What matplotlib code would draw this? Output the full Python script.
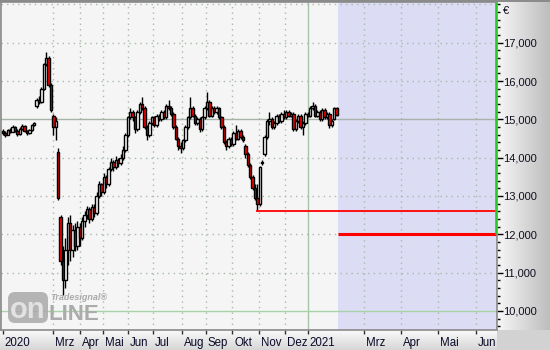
import numpy as np
import matplotlib
matplotlib.use('Agg')
import matplotlib.pyplot as plt
import matplotlib.transforms as mtransforms
from matplotlib.patches import FancyBboxPatch
from matplotlib.lines import Line2D

# ---------------- data (one candle per two sessions, Jan 2020 - Feb 2021) ----------------
opens = [14700, 14650, 14600, 14720, 14680, 14800, 14700, 14620, 14750, 14820,
         14700, 14640, 14720, 14850, 15350, 15500, 15450, 15800, 16450, 16600,
         15900, 15100, 14800, 14150, 12450, 11300, 10800, 11600, 12300, 11600,
         12100, 11700, 12200, 11900, 12350, 12500, 12650, 12400, 12700, 12550,
         13000, 13300, 13100, 13500, 13300, 13700, 13900, 13750, 13950, 13850,
         14000, 14200, 14600, 15050, 15200, 15050, 14750, 15200, 15400, 15300,
         14800, 14600, 14900, 15050, 14850, 15100, 15000, 15200, 15050, 15350,
         15300, 15150, 14800, 14500, 14300, 14250, 14450, 14800, 15050, 15300,
         15100, 14900, 15000, 14750, 15050, 15300, 15450, 15100, 15300, 15200,
         15300, 15050, 14800, 14400, 14300, 14500, 14350, 14650, 14500, 14700,
         14550, 14300, 14100, 13800, 13500, 13200, 12950, 12800, 13870, 14100,
         14550, 14950, 15000, 14800, 14900, 15100, 14950, 15150, 15050, 15200,
         15100, 15150, 14750, 14950, 15100, 14800, 14900, 15150, 15100, 15300,
         15350, 15100, 15200, 15000, 15250, 15050, 15150, 14850, 15000, 15300]
highs = [14760, 14700, 14760, 14780, 14850, 14830, 14740, 14790, 14880, 14850,
         14720, 14760, 14880, 14940, 15560, 15600, 15850, 16480, 16760, 16650,
         15950, 15150, 15050, 14250, 12500, 11700, 11900, 12450, 12500, 12250,
         12300, 12350, 12300, 12450, 12600, 12750, 12700, 12800, 12800, 13100,
         13400, 13350, 13600, 13550, 13750, 14000, 13950, 14050, 14000, 14100,
         14300, 14650, 15100, 15300, 15250, 15100, 15250, 15450, 15580, 15350,
         14850, 14950, 15100, 15100, 15150, 15150, 15250, 15250, 15400, 15500,
         15350, 15200, 14850, 14550, 14400, 14500, 14850, 15100, 15580, 15350,
         15150, 15050, 15050, 15100, 15350, 15710, 15500, 15350, 15350, 15350,
         15330, 15100, 14850, 14450, 14550, 14550, 14700, 14850, 14750, 14750,
         14600, 14350, 14150, 13850, 13550, 13300, 13300, 13780, 13950, 14600,
         15000, 15200, 15050, 14950, 15150, 15150, 15200, 15250, 15250, 15250,
         15200, 15200, 15000, 15150, 15150, 14950, 15200, 15200, 15350, 15450,
         15400, 15250, 15250, 15300, 15300, 15200, 15200, 15000, 15320, 15330]
lows = [14580, 14540, 14580, 14640, 14660, 14660, 14560, 14600, 14720, 14660,
        14590, 14620, 14700, 14820, 15300, 15400, 15420, 15780, 16400, 15850,
        15200, 14600, 14450, 12900, 11200, 10410, 10600, 11200, 11300, 11400,
        11550, 11600, 11700, 11850, 12200, 12400, 12300, 12350, 12450, 12500,
        12950, 13000, 13050, 13200, 13250, 13650, 13650, 13700, 13750, 13800,
        13950, 14150, 14550, 15000, 14950, 14650, 14700, 15150, 15250, 14750,
        14460, 14550, 14850, 14800, 14800, 14950, 14950, 15000, 15000, 15250,
        15100, 14750, 14450, 14200, 14120, 14200, 14400, 14750, 15000, 15050,
        14850, 14850, 14680, 14700, 15000, 15250, 15050, 15050, 15150, 15150,
        15000, 14750, 14350, 14200, 14250, 14300, 14300, 14450, 14450, 14500,
        14400, 14000, 13750, 13450, 13150, 12900, 12620, 12750, 13820, 14050,
        14500, 14850, 14750, 14750, 14850, 14900, 14900, 15000, 15000, 15050,
        15050, 14700, 14700, 14900, 14750, 14600, 14850, 15050, 15050, 15250,
        15050, 15050, 14950, 14950, 15000, 15000, 14780, 14800, 14980, 15080]
closes = [14650, 14600, 14720, 14680, 14800, 14700, 14620, 14750, 14820, 14700,
          14640, 14720, 14850, 14900, 15500, 15450, 15800, 16450, 16600, 15900,
          15250, 14800, 14950, 12950, 11300, 10800, 11600, 12300, 11600, 12100,
          11700, 12200, 11900, 12350, 12500, 12650, 12400, 12700, 12550, 13000,
          13300, 13100, 13500, 13300, 13700, 13900, 13750, 13950, 13850, 14000,
          14200, 14600, 15050, 15200, 15050, 14750, 15200, 15400, 15300, 14800,
          14600, 14900, 15050, 14850, 15100, 15000, 15200, 15050, 15350, 15300,
          15150, 14800, 14500, 14300, 14250, 14450, 14800, 15050, 15300, 15100,
          14900, 15000, 14750, 15050, 15300, 15450, 15100, 15300, 15200, 15300,
          15050, 14800, 14400, 14300, 14500, 14350, 14650, 14500, 14700, 14550,
          14450, 14100, 13800, 13500, 13200, 12950, 12800, 13750, 13880, 14550,
          14950, 15000, 14800, 14900, 15100, 14950, 15150, 15050, 15200, 15100,
          15150, 14750, 14950, 15100, 14800, 14900, 15150, 15100, 15300, 15350,
          15100, 15200, 15000, 15250, 15050, 15150, 14850, 14950, 15300, 15120]
# session index of each candle
day_index = list(range(0, 280, 2))

month_labels = ['2020', 'Mrz', 'Apr', 'Mai', 'Jun', 'Jul', 'Aug', 'Sep', 'Okt',
                'Nov', 'Dez', '2021', 'Mrz', 'Apr', 'Mai', 'Jun']
month_pos = [0, 42, 64, 83, 104, 125, 149, 169, 191, 213, 235, 254,
             301, 332, 362.5, 394]
price_ticks = [10000, 11000, 12000, 13000, 14000, 15000, 16000, 17000]
grid_levels = [11000, 12000, 13000, 14000, 16000, 17000, 18000]
support_level = 12620
support_start = 211
target_level = 12000
forecast_start = 279.2

# ---------------- figure ----------------
W, H = 550, 350
fig = plt.figure(figsize=(5.5, 3.5), dpi=100)
fig.patch.set_facecolor('#d2d2d2')
FONT = ['Liberation Sans', 'DejaVu Sans']
plt.rcParams['font.family'] = FONT

# right axis gradient background
axr = fig.add_axes([497 / W, 20 / H, 53 / W, 330 / H], zorder=0)
grad = np.linspace(0.97, 0.74, 256)[None, :]
axr.imshow(np.dstack([grad, grad, grad]), aspect='auto', extent=[0, 1, 0, 1])
axr.set_axis_off()
# bottom axis gradient background
axb = fig.add_axes([0, 0, 497 / W, 20 / H], zorder=0)
gradb = np.linspace(0.84, 0.98, 64)[:, None]
axb.imshow(np.dstack([gradb, gradb, gradb]), aspect='auto', extent=[0, 1, 0, 1], origin='lower')
axb.set_axis_off()

ax = fig.add_axes([1 / W, 20 / H, 496 / W, 328 / H], zorder=2)
ax.set_facecolor('#f5f5f5')
xmin, xmax = -1.67, 411.67
ax.set_xlim(xmin, xmax)
ax.set_ylim(9500, 18065)

# forecast zone
ax.axvspan(forecast_start, xmax, color='#dcdcf4', zorder=0, lw=0)

# grids
for g in grid_levels:
    ax.axhline(g, color='#a8baa8', lw=1, ls=(0, (1, 3)), zorder=1)
for p, lab in zip(month_pos[1:], month_labels[1:]):
    if lab == '2021':
        ax.axvline(p, color='#a8c4a8', lw=1, zorder=1)
    else:
        ax.axvline(p, color='#a8baa8', lw=1, ls=(0, (1, 3)), zorder=1)
ax.axhline(15000, color='#a8b2a8', lw=1, zorder=1)
ax.axhline(10000, color='#a8d2a8', lw=1, zorder=1)

# candles
o = np.array(opens); c = np.array(closes)
x = np.array(day_index)
ax.vlines(x, lows, highs, color='black', lw=1.0, zorder=3)
body_bottom = np.minimum(o, c)
body_h = np.maximum(np.abs(c - o), 25)
colors = ['#ff0000' if cc < oo else 'white' for oo, cc in zip(opens, closes)]
ax.bar(x, body_h, bottom=body_bottom, width=2.1, color=colors, edgecolor='black',
       linewidth=1.0, zorder=4)

# support / target lines
ax.hlines(support_level, support_start, xmax, color='#ff0000', lw=1.3, zorder=5)
ax.hlines(target_level, forecast_start, xmax, color='#ff0000', lw=2.2, zorder=5)
ax.vlines(xmax - 0.6, target_level, 18065, color='#22cc22', lw=1.9, zorder=6, clip_on=False)

for s in ax.spines.values():
    s.set_color('#8a8a8a')
    s.set_linewidth(1.2)
ax.spines['right'].set_visible(False)
ax.vlines(xmax, 9500, target_level, color='#8a8a8a', lw=1.2, zorder=6, clip_on=False)

# right price axis
ax.yaxis.tick_right()
ax.set_yticks(price_ticks)
ax.set_yticklabels([f'{v:,}' for v in price_ticks])
ax.set_yticks(np.arange(9600, 18001, 200), minor=True)
ax.tick_params(axis='y', which='major', length=4, width=1, color='black', pad=0.5,
               labelsize=8, labelcolor='#101020')
ax.tick_params(axis='y', which='minor', length=2.3, width=1, color='black')
fig.text(503 / W, 1 - 11 / H, '€', fontsize=8, color='#101020', ha='left', va='center')

# bottom date axis
ax.set_xticks(month_pos)
ax.set_xticklabels([])
ax.tick_params(axis='x', which='major', length=3, width=1, color='#303030', direction='out')
trans = mtransforms.blended_transform_factory(ax.transData, ax.transAxes)
for p, lab in zip(month_pos, month_labels):
    ax.text(p + 1.6, -0.039, lab, transform=trans, fontsize=8.3, color='#0a0a28',
            ha='left', va='center', clip_on=False)

# top border
fig.add_artist(Line2D([0, 1], [1 - 0.8 / H, 1 - 0.8 / H], transform=fig.transFigure,
                      color='#8a8a8a', lw=1.4))

# watermark
ident = mtransforms.IdentityTransform()
box = FancyBboxPatch((8, H - 323), 40, 31, boxstyle='round,pad=0,rounding_size=7',
                     transform=ident, facecolor='#a9a9a9', edgecolor='none', alpha=0.85, zorder=7)
fig.add_artist(box)
fig.text(28 / W, 1 - 310 / H, 'on', fontsize=21, fontweight='bold', color='#e2e2e2',
         ha='center', va='center', zorder=8)
fig.text(49 / W, 1 - 314 / H, 'LINE', fontsize=16, fontweight='bold', color='#ababab',
         ha='left', va='center', zorder=8)
fig.text(50 / W, 1 - 298 / H, 'Tradesignal®', fontsize=6.5, fontweight='bold',
         style='italic', color='#ababab', ha='left', va='center', zorder=8)

fig.savefig('out.png', dpi=100, facecolor=fig.get_facecolor())
